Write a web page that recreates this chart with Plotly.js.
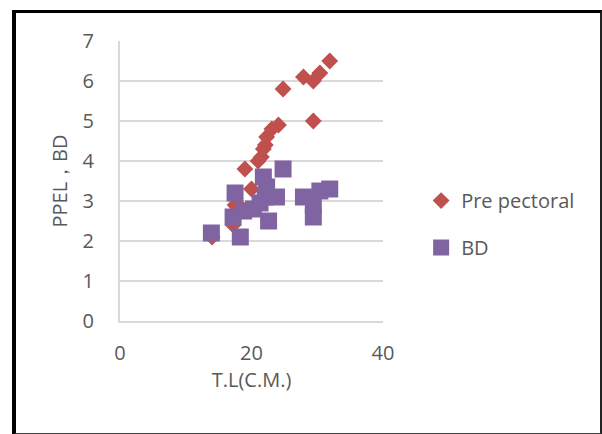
<!DOCTYPE html>
<html>
<head>
<meta charset="utf-8">
<script src="https://cdn.plot.ly/plotly-3.0.1.min.js"></script>
<style>
html,body{margin:0;padding:0;background:#fff;}
#wrap{position:relative;width:602px;height:434px;}
#chart{position:absolute;left:0;top:0;width:602px;height:434px;}
#frame{position:absolute;left:12px;top:10px;width:584px;height:420px;border-left:4px solid #000;border-top:3px solid #000;border-right:2px solid #222;border-bottom:2px solid #444;pointer-events:none;}
</style>
</head>
<body>
<div id="wrap"><div id="chart"></div><div id="frame"></div></div>
<script>
var preX = [14, 17.2, 17.5, 18.3, 19, 20, 21, 21.5, 21.8, 22.1, 22.3, 23.1, 24.1, 24.8, 27.9, 29.4, 29.4, 30.4, 31.9];
var preY = [2.1, 2.4, 2.9, 2.85, 3.8, 3.3, 4.0, 4.1, 4.3, 4.4, 4.6, 4.8, 4.9, 5.8, 6.1, 6.0, 5.0, 6.2, 6.5];
var bdX = [13.9, 17.2, 17.5, 18.3, 18.8, 20.3, 21.3, 21.8, 22.1, 22.3, 22.6, 23.8, 24.8, 27.9, 29.4, 29.4, 30.4, 31.9];
var bdY = [2.2, 2.6, 3.2, 2.1, 2.75, 2.8, 2.95, 3.6, 3.1, 3.35, 2.5, 3.1, 3.8, 3.1, 2.6, 2.9, 3.25, 3.3];
var xTicks = [0, 20, 40];
var yTicks = [0, 1, 2, 3, 4, 5, 6, 7];

var font = "Open Sans, sans-serif";
var traces = [
  {x: preX, y: preY, type: 'scatter', mode: 'markers', name: 'Pre pectoral', legendgroup: 'a',
   marker: {symbol: 'diamond', size: 13, color: '#C0504D', line: {width: 0}}},
  {x: bdX, y: bdY, type: 'scatter', mode: 'markers', name: 'BD', legendgroup: 'b',
   marker: {symbol: 'square', size: 17, color: '#8064A2', line: {width: 0}}}
];
var layout = {
  width: 602, height: 434,
  margin: {l: 120, r: 219, t: 41, b: 113},
  paper_bgcolor: '#fff', plot_bgcolor: '#fff',
  font: {family: font, color: '#595959', size: 20},
  showlegend: true,
  legend: {x: 1.145, xanchor: 'left', y: 0.346, yanchor: 'middle', traceorder: 'grouped', tracegroupgap: 18,
           font: {family: font, size: 20, color: '#595959'}, bgcolor: 'rgba(0,0,0,0)'},
  xaxis: {range: [0, 40], tickvals: xTicks, ticktext: xTicks.map(String), showgrid: false, zeroline: false,
          showline: true, linecolor: '#d9d9d9', linewidth: 2, ticks: '', ticklabelstandoff: 13,
          tickfont: {family: font, size: 20, color: '#595959'},
          title: {text: 'T.L(C.M.)', font: {family: font, size: 20, color: '#595959'}, standoff: 3}},
  yaxis: {range: [0, 7], tickvals: yTicks, ticktext: yTicks.map(String), showgrid: true, gridcolor: '#d9d9d9', gridwidth: 2,
          zeroline: false, showline: true, linecolor: '#d9d9d9', linewidth: 2, ticks: '', ticklabelstandoff: 20,
          tickfont: {family: font, size: 20, color: '#595959'},
          title: {text: 'PPEL，BD', font: {family: font, size: 20, color: '#595959'}, standoff: 10}}
};
Plotly.newPlot('chart', traces, layout, {displayModeBar: false, staticPlot: true});
</script>
</body>
</html>
